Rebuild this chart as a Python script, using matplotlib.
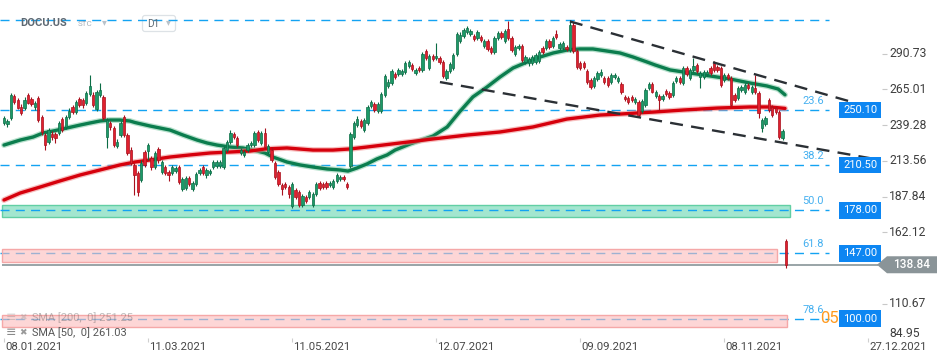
import matplotlib
matplotlib.use("Agg")
import matplotlib.pyplot as plt
import matplotlib.transforms as mtransforms
from matplotlib.patches import Rectangle, Polygon, FancyBboxPatch

plt.rcParams['font.family'] = ['Roboto', 'DejaVu Sans']

# ---------------- data ----------------
opens = [240.8, 240.0, 244.4, 260.2, 257.3, 252.3, 251.5, 260.9, 258.0, 252.3,
         258.7, 245.1, 232.1, 227.1, 232.9, 232.9, 233.6, 243.6, 237.9, 245.1,
         252.3, 248.7, 258.0, 257.3, 255.1, 261.6, 260.9, 250.8, 260.9, 259.5,
         230.7, 240.8, 237.2, 224.2, 232.1, 245.1, 232.1, 221.3, 210.6, 204.8,
         199.8, 219.9, 220.6, 215.6, 209.1, 222.1, 205.5, 209.1, 205.5, 204.8,
         206.2, 209.1, 193.3, 194.0, 201.2, 193.3, 196.9, 204.8, 209.1, 203.4,
         204.8, 209.1, 209.8, 209.8, 209.1, 221.3, 227.1, 232.9, 230.0, 219.2,
         217.8, 221.3, 224.9, 224.9, 234.3, 226.4, 233.6, 219.9, 221.3, 212.0,
         205.5, 196.2, 196.9, 194.7, 181.1, 192.6, 191.2, 181.8, 187.6, 187.6,
         181.8, 189.7, 197.6, 196.9, 197.6, 196.2, 194.7, 199.1, 200.5, 201.9,
         196.9, 209.8, 230.7, 239.3, 242.2, 235.7, 240.8, 253.0, 254.4, 249.4,
         249.4, 260.9, 267.4, 269.5, 276.0, 276.0, 276.0, 277.4, 281.7, 282.5,
         276.7, 280.3, 278.9, 292.5, 280.3, 288.9, 287.5, 287.5, 284.6, 273.1,
         278.2, 280.3, 290.4, 299.7, 303.3, 306.2, 304.8, 303.3, 301.9, 302.6,
         296.1, 299.7, 294.7, 291.8, 301.9, 305.5, 299.7, 308.3, 301.9, 290.4,
         294.7, 296.1, 284.6, 283.9, 283.9, 284.6, 285.4, 294.7, 294.7, 299.7,
         296.1, 304.8, 294.7, 294.7, 295.4, 293.2, 311.2, 292.5, 283.9, 283.9,
         278.2, 271.7, 267.4, 272.4, 275.3, 273.1, 273.1, 270.2, 273.8, 271.0,
         268.8, 259.5, 258.7, 259.5, 255.9, 255.9, 249.4, 253.7, 265.9, 268.8,
         260.2, 260.2, 258.0, 263.8, 262.3, 260.9, 271.0, 273.1, 269.5, 280.3,
         273.1, 278.9, 282.5, 273.8, 273.8, 276.0, 280.3, 283.9, 281.0, 280.3,
         271.7, 275.3, 273.1, 260.9, 258.7, 264.5, 263.1, 268.1, 263.1, 265.9,
         262.3, 237.2, 240.0, 257.3, 252.3, 251.5, 248.7, 230.0, 155.9]

highs = [245.8, 243.6, 262.3, 261.6, 258.7, 254.4, 259.5, 262.3, 259.5, 256.6,
         260.2, 246.5, 233.6, 237.2, 235.0, 234.3, 242.2, 245.1, 246.5, 251.5,
         253.7, 257.3, 259.5, 258.7, 263.8, 275.3, 263.1, 264.5, 269.5, 260.9,
         244.4, 242.2, 238.6, 229.3, 242.2, 246.5, 233.6, 223.5, 212.0, 206.2,
         214.2, 221.3, 226.4, 217.0, 220.6, 223.5, 214.2, 210.6, 207.0, 210.6,
         209.8, 210.6, 201.9, 202.7, 202.7, 199.1, 205.5, 208.4, 210.6, 208.4,
         207.7, 214.2, 214.2, 214.2, 224.2, 228.5, 235.7, 234.3, 231.4, 222.8,
         221.3, 226.4, 227.8, 235.0, 235.7, 235.0, 237.2, 225.7, 223.5, 213.4,
         207.0, 197.6, 198.3, 196.2, 198.3, 194.0, 192.6, 189.7, 189.0, 192.6,
         191.2, 198.3, 199.1, 198.3, 199.1, 199.1, 200.5, 204.8, 203.4, 203.4,
         198.3, 234.3, 242.2, 245.8, 243.6, 244.4, 253.7, 257.3, 255.9, 255.9,
         263.1, 276.0, 272.4, 279.6, 277.4, 280.3, 279.6, 285.4, 286.1, 283.9,
         280.3, 281.7, 291.8, 294.0, 290.4, 290.4, 298.3, 288.9, 286.1, 279.6,
         284.6, 291.1, 306.2, 306.2, 309.1, 310.5, 308.3, 304.8, 307.6, 304.0,
         301.2, 301.2, 296.1, 303.3, 306.9, 306.9, 308.3, 314.1, 303.3, 296.8,
         297.6, 297.6, 289.7, 288.2, 289.7, 291.1, 293.2, 296.1, 301.2, 301.2,
         303.3, 307.6, 299.0, 299.7, 296.8, 314.8, 313.4, 294.0, 285.4, 285.4,
         279.6, 273.1, 274.6, 278.2, 279.6, 274.6, 274.6, 276.7, 276.7, 274.6,
         270.2, 260.9, 260.2, 260.9, 259.5, 257.3, 258.0, 265.9, 270.2, 270.2,
         264.5, 261.6, 261.6, 265.2, 263.8, 271.0, 274.6, 274.6, 281.7, 281.7,
         280.3, 287.5, 283.9, 278.2, 278.9, 278.9, 281.7, 285.4, 282.5, 281.7,
         276.7, 276.7, 274.6, 262.3, 267.4, 268.1, 269.5, 269.5, 268.1, 275.3,
         263.8, 244.4, 245.8, 258.7, 253.7, 253.0, 250.1, 236.4, 157.4]

lows = [239.3, 237.9, 242.9, 254.4, 250.8, 246.5, 250.1, 254.4, 253.0, 250.1,
        241.5, 232.1, 221.3, 225.7, 228.5, 226.4, 232.1, 234.3, 236.4, 243.6,
        247.2, 247.2, 252.3, 251.5, 253.7, 260.2, 252.3, 249.4, 259.5, 242.9,
        222.8, 235.7, 223.5, 222.8, 230.7, 230.7, 217.8, 210.6, 189.0, 188.3,
        198.3, 209.1, 214.2, 207.0, 207.7, 212.0, 204.1, 203.4, 199.1, 203.4,
        204.8, 196.9, 191.9, 192.6, 195.5, 191.9, 195.5, 203.4, 203.4, 201.2,
        203.4, 207.7, 208.4, 208.4, 207.7, 219.9, 225.7, 229.3, 223.5, 217.8,
        216.3, 219.9, 223.5, 223.5, 227.1, 224.9, 222.1, 218.5, 212.7, 200.5,
        195.5, 189.0, 193.3, 186.8, 179.6, 186.1, 180.4, 180.4, 183.2, 186.1,
        180.4, 188.3, 192.6, 193.3, 193.3, 194.7, 193.3, 197.6, 199.1, 199.1,
        193.3, 208.4, 229.3, 237.9, 237.2, 234.3, 239.3, 251.5, 248.7, 247.9,
        247.9, 259.5, 265.9, 268.1, 272.4, 274.6, 274.6, 276.0, 280.3, 278.2,
        275.3, 277.4, 277.4, 286.1, 278.9, 285.4, 286.1, 283.2, 273.1, 271.7,
        276.7, 278.9, 288.9, 298.3, 301.9, 304.8, 303.3, 299.7, 300.4, 299.0,
        294.7, 292.5, 290.4, 290.4, 300.4, 301.2, 298.3, 300.4, 291.8, 288.9,
        293.2, 284.6, 283.2, 281.7, 282.5, 283.2, 283.9, 290.4, 293.2, 294.0,
        294.7, 301.2, 293.2, 293.2, 292.5, 291.8, 291.1, 279.6, 278.9, 279.6,
        268.8, 265.2, 265.9, 271.0, 273.8, 268.8, 266.6, 268.8, 272.4, 269.5,
        261.6, 256.6, 254.4, 255.9, 254.4, 245.1, 247.9, 252.3, 264.5, 262.3,
        258.7, 250.1, 256.6, 260.2, 258.0, 259.5, 269.5, 268.8, 268.1, 274.6,
        271.7, 277.4, 276.7, 265.9, 272.4, 274.6, 275.3, 277.4, 277.4, 266.6,
        270.2, 271.7, 252.3, 255.9, 257.3, 263.1, 261.6, 264.5, 261.6, 261.6,
        244.4, 234.3, 238.6, 248.7, 245.1, 247.2, 229.3, 228.5, 136.5]

closes = [244.4, 242.2, 260.9, 255.9, 251.5, 247.9, 257.3, 255.1, 254.4, 255.1,
          242.9, 234.3, 224.9, 235.7, 230.7, 230.0, 240.8, 235.7, 245.1, 249.4,
          248.7, 255.9, 253.7, 253.7, 262.3, 267.4, 253.7, 263.1, 264.5, 244.4,
          242.9, 237.9, 224.9, 227.1, 240.8, 232.1, 219.2, 212.0, 203.4, 191.2,
          212.0, 210.6, 224.9, 209.1, 219.2, 214.2, 212.7, 204.8, 203.4, 209.1,
          208.4, 198.3, 200.5, 201.2, 196.9, 197.6, 204.1, 207.0, 204.8, 207.0,
          206.2, 212.7, 212.7, 212.7, 222.8, 227.1, 233.6, 230.7, 224.9, 221.3,
          219.9, 224.9, 226.4, 233.6, 228.5, 233.6, 223.5, 224.2, 214.2, 201.9,
          196.9, 193.3, 194.7, 189.7, 196.9, 187.6, 181.8, 188.3, 184.7, 191.2,
          189.7, 196.9, 194.0, 194.7, 194.7, 197.6, 199.1, 203.4, 201.9, 200.5,
          194.7, 232.9, 240.8, 243.6, 238.6, 242.9, 252.3, 255.9, 250.1, 254.4,
          261.6, 274.6, 270.2, 278.2, 273.8, 278.9, 278.2, 283.9, 284.6, 279.6,
          278.9, 278.9, 290.4, 287.5, 288.9, 286.8, 288.9, 284.6, 274.6, 278.2,
          283.2, 289.7, 304.8, 304.0, 307.6, 309.1, 306.9, 301.2, 306.2, 300.4,
          299.7, 294.0, 291.8, 301.9, 305.5, 302.6, 306.9, 301.9, 293.2, 295.4,
          296.1, 286.1, 288.2, 286.8, 288.2, 289.7, 291.8, 291.8, 299.7, 295.4,
          301.9, 302.6, 297.6, 298.3, 294.0, 311.2, 292.5, 281.0, 280.3, 281.0,
          270.2, 266.6, 273.1, 276.7, 277.4, 270.2, 268.1, 275.3, 275.3, 273.1,
          263.1, 258.0, 255.9, 257.3, 258.0, 246.5, 256.6, 264.5, 268.8, 263.1,
          263.1, 257.3, 260.2, 261.6, 259.5, 269.5, 273.1, 270.2, 280.3, 276.0,
          278.9, 281.7, 278.2, 276.7, 277.4, 277.4, 276.7, 278.9, 278.9, 268.1,
          275.3, 273.1, 253.7, 257.3, 265.9, 266.6, 268.1, 265.9, 266.6, 263.1,
          247.9, 242.9, 244.4, 250.1, 246.5, 248.7, 230.7, 235.0, 138.84]

sma50_x = [0, 4.7, 8.5, 11.4, 14.3, 18.4, 22.2, 25.1, 28.0, 30.9, 33.8, 36.7, 38.2,
           42.6, 48.4, 52.2, 56.3, 59.2, 62.1, 65.9, 69.7, 73.8, 76.1, 78.4, 82.5,
           86.3, 90.1, 94.2, 98.0, 100.3, 102.9, 105.8, 108.7, 111.7, 114.0, 118.4,
           125.1, 129.2, 132.9, 136.7, 140.8, 144.6, 148.4, 152.5, 156.3, 160.1,
           164.1, 167.9, 171.7, 175.8, 179.6, 183.4, 187.5, 189.8, 194.2, 200.0,
           205.8, 211.7, 217.5, 222.4, 225.7, 227.7]
sma50_v = [224.9, 228.5, 230.7, 233.6, 235.0, 237.2, 239.3, 240.8, 242.2, 242.9, 242.9, 242.2, 241.1,
           238.6, 235.7, 232.1, 228.5, 226.4, 224.9, 223.5, 222.8, 220.6, 219.2, 216.3, 212.7,
           210.6, 209.1, 207.7, 207.0, 206.2, 208.4, 211.3, 214.9, 217.8, 221.3, 225.7,
           231.4, 237.9, 249.0, 259.5, 266.6, 273.8, 280.3, 284.6, 288.2, 291.1,
           293.2, 294.0, 294.0, 292.5, 291.1, 288.2, 284.6, 282.5, 278.9, 276.7,
           274.6, 272.4, 269.5, 267.4, 265.2, 261.03]

sma200_x = [0, 4.7, 10.5, 16.3, 22.2, 28.0, 33.8, 38.2, 42.6, 48.4, 54.2, 60.1, 65.9,
            71.7, 76.1, 82.5, 90.1, 95.9, 100.9, 105.8, 115.5, 125.1, 135.0, 144.6,
            154.2, 164.1, 173.8, 179.6, 189.8, 198.0, 207.9, 217.5, 223.3, 227.7]
sma200_v = [185.4, 190.4, 194.7, 199.1, 203.4, 207.0, 210.6, 212.7, 214.2, 216.3, 217.8, 219.2, 219.9,
            220.6, 222.1, 222.8, 221.3, 221.3, 222.1, 223.5, 226.4, 229.3, 232.1, 234.3,
            237.9, 243.6, 246.5, 247.2, 248.7, 250.1, 251.5, 252.3, 252.3, 251.25]

date_ticks = [0, 42, 84, 126, 168, 210, 252]
date_labels = ['08.01.2021', '11.03.2021', '11.05.2021', '12.07.2021',
               '09.09.2021', '08.11.2021', '27.12.2021']

ytick_values = [290.73, 265.01, 239.28, 213.56, 187.84, 162.12, 110.67, 84.95]

top_level = 314.76
fib_prices = [250.10, 210.50, 178.00, 147.00, 100.00]
fib_labels = ['23.6', '38.2', '50.0', '61.8', '78.6']
box_labels = ['250.10', '210.50', '178.00', '147.00', '100.00']

zone_bottoms = [173.0, 141.0, 94.3]
zone_tops = [181.8, 149.9, 102.5]
zone_ends = [229.2, 225.3, 228.2]
zone_kinds = ['green', 'pink', 'pink']

last_price = 138.84

upper_trend_x = [165.0, 255.4]
upper_trend_v = [313.8, 250.1]
lower_trend_x = [127.1, 255.4]
lower_trend_v = [270.2, 214.2]

legend_rows = ['SMA [200,  0] 251.25', 'SMA [50,  0] 261.03']

# ---------------- layout helpers ----------------
W, H = 950, 364
fig = plt.figure(figsize=(W / 100, H / 100), dpi=100)
ax = fig.add_axes([0, 0, 1, 1])
ax.set_axis_off()

PX0, PXB = 4.0, 3.43       # pixel of bar 0, pixels per bar
PY0, PYK = 329.2, 0.719    # price at top edge, price per pixel
ax.set_xlim(-PX0 / PXB, (W - PX0) / PXB)
ax.set_ylim(PY0 - PYK * H, PY0)


def bx(px):
    return (px - PX0) / PXB


def pr(py):
    return PY0 - PYK * py


T = mtransforms.Affine2D().scale(1 / W, -1 / H).translate(0, 1) + fig.transFigure

BLUE = '#13a3f2'

# ---------------- horizontal levels & zones ----------------
ax.hlines([top_level] + fib_prices, bx(0), bx(829), colors=BLUE, lw=1.0,
          linestyles=(0, (6.5, 4.5)), zorder=2)

for b, t, e, k in zip(zone_bottoms, zone_tops, zone_ends, zone_kinds):
    if k == 'green':
        ax.add_patch(Rectangle((bx(2), b), e - bx(2), t - b, facecolor='#a3e6cf',
                               edgecolor='#62cfa4', lw=1.0, zorder=1))
    else:
        ax.add_patch(Rectangle((bx(2), b), e - bx(2), t - b, facecolor='#fcbcbc',
                               alpha=0.6, edgecolor='none', zorder=3))
        ax.add_patch(Rectangle((bx(2), b), e - bx(2), t - b, facecolor='none',
                               edgecolor='#f5a8a8', lw=1.0, zorder=3))

ax.hlines(last_price, bx(2), bx(878), colors='#7d8b8f', lw=1.1, zorder=3)

# ---------------- candles ----------------
idx = list(range(len(closes)))
ups = [c >= o for o, c in zip(opens, closes)]
body_col = ['#1c9a68' if u else '#e0202e' for u in ups]
edge_col = ['#0b6c45' if u else '#a8101d' for u in ups]
ax.vlines(idx, lows, highs, colors=edge_col, lw=0.8, zorder=5)
bottoms = [min(o, c) for o, c in zip(opens, closes)]
heights = [max(abs(c - o), 0.7) for o, c in zip(opens, closes)]
ax.bar(idx, heights, bottom=bottoms, width=0.68, color=body_col,
       edgecolor=edge_col, linewidth=0.5, zorder=6)

# ---------------- moving averages ----------------
ax.plot(sma50_x, sma50_v, color='#7fc9a5', lw=4.2, alpha=0.55,
        solid_capstyle='round', zorder=4)
ax.plot(sma50_x, sma50_v, color='#0b7d4e', lw=2.4, solid_capstyle='round', zorder=4)
ax.plot(sma200_x, sma200_v, color='#f08a8a', lw=4.2, alpha=0.55,
        solid_capstyle='round', zorder=4)
ax.plot(sma200_x, sma200_v, color='#d6000c', lw=2.4, solid_capstyle='round', zorder=4)

# ---------------- trend lines ----------------
for xs, vs in ((upper_trend_x, upper_trend_v), (lower_trend_x, lower_trend_v)):
    ax.plot(xs, vs, color='#2b3035', lw=1.7, linestyle=(0, (5.5, 3.5)), zorder=7)

# ---------------- fib labels & price boxes ----------------
for p, lab in zip(fib_prices, fib_labels):
    ax.text(bx(813), p + 6.6, lab, color='#45b0f0', fontsize=7.9,
            ha='center', va='center', zorder=8)

ax.text(bx(839), 100.0, '05', color='#ff9a1f', fontsize=12,
        ha='right', va='center', zorder=8)

bh = 8.3 * PYK
for p, lab in zip(fib_prices, box_labels):
    ax.add_patch(Rectangle((bx(839), p - bh), bx(881) - bx(839), 2 * bh,
                           facecolor='#0d86f2', edgecolor='none', zorder=9))
    ax.text(bx(860), p, lab, color='white', fontsize=8.0,
            ha='center', va='center', zorder=10)

th = 8.5 * PYK
tag = Polygon([(bx(877), last_price), (bx(887), last_price + th),
               (bx(937), last_price + th), (bx(937), last_price - th),
               (bx(887), last_price - th)], closed=True,
              facecolor='#8a9498', edgecolor='none', zorder=9)
ax.add_patch(tag)
ax.text(bx(912), last_price, f'{last_price:.2f}', color='white', fontsize=8.6,
        fontweight='medium', ha='center', va='center', zorder=10)

# ---------------- y axis labels ----------------
for v in ytick_values:
    if v == ytick_values[-1]:
        ax.text(bx(889), v - 0.5, f'{v:.2f}', color='#3e3e3e', fontsize=8.7,
                ha='left', va='bottom', zorder=8)
    else:
        ax.hlines(v, bx(882), bx(887), colors='#c8c8c8', lw=0.8, zorder=8)
        ax.text(bx(889), v, f'{v:.2f}', color='#3e3e3e', fontsize=8.7,
                ha='left', va='center', zorder=8)

# ---------------- x axis labels ----------------
ax.vlines(date_ticks, pr(342), pr(337.5), colors='#cfcfcf', lw=0.8, zorder=8)
for t, lab in zip(date_ticks, date_labels):
    ax.text(t + 0.3, pr(347.5), lab, color='#474747', fontsize=8.2,
            ha='left', va='center', zorder=8)

# ---------------- header ----------------
ax.text(20, 23, 'DOCU.US', transform=T, color='#5d6872', fontsize=8.0,
        fontweight='bold', ha='left', va='center')
ax.text(78, 24, 'STC', transform=T, color='#a4aeb8', fontsize=5.8,
        ha='left', va='center')
ax.text(104, 22.5, '▾', transform=T, color='#b9c2ca', fontsize=7,
        ha='center', va='center', family=['DejaVu Sans'])
ax.add_patch(FancyBboxPatch((142.5, 15.5), 33, 16, boxstyle='round,pad=0,rounding_size=2.5',
                            transform=T, facecolor='white', edgecolor='#dde2e6', lw=0.9))
ax.text(147, 23.8, 'D1', transform=T, color='#5d6872', fontsize=7.2,
        ha='left', va='center')
ax.text(168.5, 22.5, '▾', transform=T, color='#b9c2ca', fontsize=7,
        ha='center', va='center', family=['DejaVu Sans'])

# ---------------- SMA legend ----------------
for row, (lab, alpha) in enumerate(zip(legend_rows, [0.38, 1.0])):
    yy = 317.5 + 15 * row
    ax.text(11, yy, '≡', transform=T, color='#8a8a8a', fontsize=9, alpha=alpha,
            ha='center', va='center', family=['DejaVu Sans'], zorder=11)
    ax.text(23, yy, '✖', transform=T, color='#9a9a9a', fontsize=6.5, alpha=alpha,
            ha='center', va='center', family=['DejaVu Sans'], zorder=11)
    ax.text(32, yy, lab, transform=T, color='#555555', fontsize=7.9, alpha=alpha,
            ha='left', va='center', zorder=11)

fig.savefig('out.png', dpi=100)
